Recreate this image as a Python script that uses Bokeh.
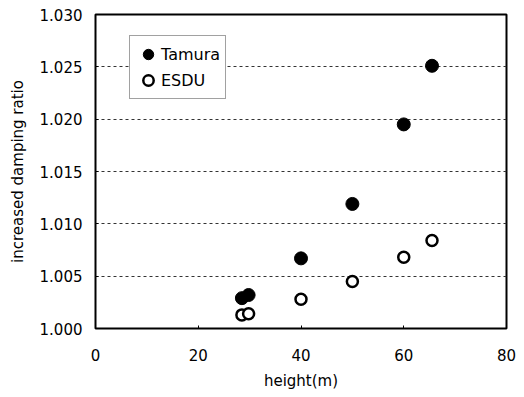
from bokeh.plotting import figure
from bokeh.embed import file_html
from bokeh.resources import INLINE
from bokeh.models import FixedTicker, Legend, LegendItem, Range1d, CustomJSTickFormatter

height_tamura = [28.5, 29.8, 40, 50, 60, 65.5]
ratio_tamura = [1.0029, 1.0032, 1.0067, 1.0119, 1.0195, 1.0251]
height_esdu = [28.5, 29.8, 40, 50, 60, 65.5]
ratio_esdu = [1.0013, 1.0014, 1.0028, 1.0045, 1.0068, 1.0084]
x_ticks = [0, 20, 40, 60, 80]
y_ticks = [1.000, 1.005, 1.010, 1.015, 1.020, 1.025, 1.030]

FONT = "DejaVu Sans"

p = figure(width=524, height=397, output_backend="svg", toolbar_location=None,
           x_range=Range1d(0, 80), y_range=Range1d(1.0, 1.03),
           min_border_left=95, min_border_right=18, min_border_top=14, min_border_bottom=69)
p.background_fill_color = "white"
p.border_fill_color = "white"
p.outline_line_color = "black"
p.outline_line_width = 2

p.xgrid.grid_line_color = None
p.ygrid.grid_line_color = "#333333"
p.ygrid.grid_line_dash = "3 3"
p.ygrid.grid_line_width = 1

for ax in (p.xaxis, p.yaxis):
    ax.axis_line_color = None
    ax.major_tick_in = 3
    ax.major_tick_out = 0
    ax.minor_tick_line_color = None
    ax.major_label_text_font = FONT
    ax.major_label_text_font_size = "15px"
    ax.major_label_text_color = "black"
    ax.axis_label_text_font = FONT
    ax.axis_label_text_font_size = "15px"
    ax.axis_label_text_font_style = "normal"
    ax.axis_label_text_color = "black"

p.xaxis.ticker = FixedTicker(ticks=x_ticks)
p.yaxis.ticker = FixedTicker(ticks=y_ticks)
p.yaxis.formatter = CustomJSTickFormatter(code="return tick.toFixed(3);")
p.xaxis.axis_label = "height(m)"
p.yaxis.axis_label = "increased damping ratio"
p.xaxis.major_label_standoff = 20
p.yaxis.major_label_standoff = 13
p.xaxis.axis_label_standoff = 8
p.yaxis.axis_label_standoff = 10

r1 = p.scatter(height_tamura, ratio_tamura, size=13, fill_color="black", line_color="black")
r2 = p.scatter(height_esdu, ratio_esdu, size=11, fill_color="white", line_color="black", line_width=2.5)

legend = Legend(items=[LegendItem(label="Tamura", renderers=[r1]),
                       LegendItem(label="ESDU", renderers=[r2])],
                location=(34, 229))
legend.label_text_font = FONT
legend.label_text_font_size = "16px"
legend.label_text_color = "black"
legend.border_line_color = "#444444"
legend.border_line_width = 1
legend.background_fill_alpha = 1
legend.padding = 5
legend.spacing = 0
legend.glyph_width = 26
legend.glyph_height = 26
legend.label_standoff = 0
legend.margin = 0
p.add_layout(legend, "center")

open("out.html", "w").write(file_html(p, INLINE))
